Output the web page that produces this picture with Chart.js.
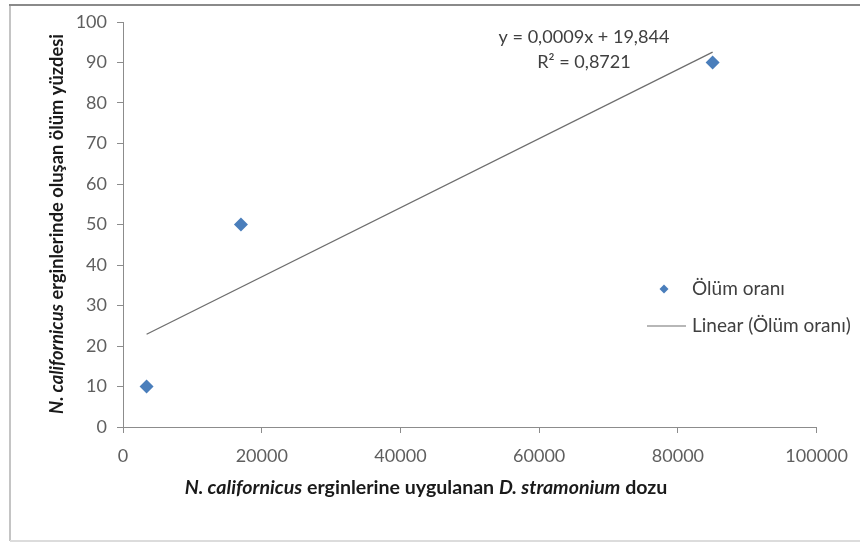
<!DOCTYPE html>
<html><head><meta charset="utf-8">
<script src="https://cdn.jsdelivr.net/npm/chart.js@4.4.1/dist/chart.umd.min.js"></script>
<style>html,body{margin:0;padding:0;background:#fff}#wrap{width:860px;height:543px;position:relative}canvas{display:block}</style>
</head><body><div id="wrap"><canvas id="c" width="860" height="543"></canvas></div>
<script>
// ---- data ----
const doseValues = [3400, 17000, 85000];
const mortalityValues = [10, 50, 90];
const xTickValues = [0, 20000, 40000, 60000, 80000, 100000];
const yTickValues = [0, 10, 20, 30, 40, 50, 60, 70, 80, 90, 100];
const seriesName = 'Ölüm oranı';
const trendName = 'Linear (Ölüm oranı)';
const equationLines = ['y = 0,0009x + 19,844', 'R² = 0,8721'];
const yTitleParts = [['N. californicus', true], [' erginlerinde oluşan ölüm yüzdesi', false]];
const xTitleParts = [['N. californicus', true], [' erginlerine uygulanan ', false], ['D. stramonium', true], [' dozu', false]];

// linear least-squares trendline across the data range (as Excel draws it)
const n = doseValues.length;
const mx = doseValues.reduce((a, b) => a + b, 0) / n;
const my = mortalityValues.reduce((a, b) => a + b, 0) / n;
let sxy = 0, sxx = 0;
for (let i = 0; i < n; i++) { sxy += (doseValues[i] - mx) * (mortalityValues[i] - my); sxx += (doseValues[i] - mx) ** 2; }
const slope = sxy / sxx, intercept = my - slope * mx;
const xMin = Math.min(...doseValues), xMax = Math.max(...doseValues);
const trendPoints = [{x: xMin, y: intercept + slope * xMin}, {x: xMax, y: intercept + slope * xMax}];

const FONT = 'Lato, "Open Sans", sans-serif';
const tickColor = '#5f5f5f';
const axisColor = '#8c8c8c';

function fitSize(ctx, parts, weight, target, base) {
  let w = 0;
  parts.forEach(p => { ctx.font = (p[1] ? 'italic ' : '') + weight + ' ' + base + 'px ' + FONT; w += ctx.measureText(p[0]).width; });
  return base * target / w;
}
function drawMixed(ctx, parts, cx, cy, rot, size, weight, color) {
  ctx.save(); ctx.translate(cx, cy); if (rot) ctx.rotate(rot);
  let total = 0; const ws = [];
  parts.forEach(p => { ctx.font = (p[1] ? 'italic ' : '') + weight + ' ' + size + 'px ' + FONT; const w = ctx.measureText(p[0]).width; ws.push(w); total += w; });
  let x = -total / 2; ctx.textBaseline = 'middle'; ctx.textAlign = 'left'; ctx.fillStyle = color;
  parts.forEach((p, i) => { ctx.font = (p[1] ? 'italic ' : '') + weight + ' ' + size + 'px ' + FONT; ctx.fillText(p[0], x, 0); x += ws[i]; });
  ctx.restore();
}

const decor = {
  id: 'decor',
  beforeDraw(chart) {
    const ctx = chart.ctx;
    ctx.save(); ctx.fillStyle = '#fff'; ctx.fillRect(0, 0, chart.width, chart.height); ctx.restore();
  },
  afterDraw(chart) {
    const ctx = chart.ctx;
    ctx.save();
    // frame
    ctx.lineWidth = 2;
    ctx.strokeStyle = '#c4c4c4'; ctx.beginPath(); ctx.moveTo(10, 4); ctx.lineTo(10, 541); ctx.stroke();
    ctx.strokeStyle = '#dcdcdc'; ctx.beginPath(); ctx.moveTo(10, 541); ctx.lineTo(860, 541); ctx.stroke();
    ctx.strokeStyle = '#8a8a8a'; ctx.beginPath(); ctx.moveTo(9, 5); ctx.lineTo(860, 5); ctx.stroke();

    // equation
    const eqSize = fitSize(ctx, [[equationLines[0], false]], 'normal', 171, 15);
    ctx.font = eqSize + 'px ' + FONT; ctx.fillStyle = '#404040'; ctx.textAlign = 'center'; ctx.textBaseline = 'middle';
    ctx.fillText(equationLines[0], 584, 37);
    ctx.fillText(equationLines[1], 584, 62);

    // legend
    const lgSize = fitSize(ctx, [[trendName, false]], 'normal', 159, 15);
    ctx.font = lgSize + 'px ' + FONT; ctx.textAlign = 'left';
    ctx.fillStyle = '#4A7EBB';
    ctx.beginPath(); ctx.moveTo(664, 284.5); ctx.lineTo(668.5, 289); ctx.lineTo(664, 293.5); ctx.lineTo(659.5, 289); ctx.closePath(); ctx.fill();
    ctx.fillStyle = '#404040';
    ctx.fillText(seriesName, 692, 289);
    ctx.strokeStyle = '#707070'; ctx.lineWidth = 1.2;
    ctx.beginPath(); ctx.moveTo(647, 326); ctx.lineTo(686, 326); ctx.stroke();
    ctx.fillText(trendName, 692, 326);
    ctx.restore();

    // axis titles
    const xs = fitSize(ctx, xTitleParts, 'bold', 483, 15);
    drawMixed(ctx, xTitleParts, 426, 488, 0, xs, 'bold', '#1a1a1a');
    const ys = fitSize(ctx, yTitleParts, 'bold', 380, 15);
    drawMixed(ctx, yTitleParts, 57, 224, -Math.PI / 2, ys, 'bold', '#1a1a1a');
  }
};

new Chart(document.getElementById('c'), {
  type: 'scatter',
  data: {
    datasets: [
      {
        label: seriesName,
        data: doseValues.map((x, i) => ({x, y: mortalityValues[i]})),
        pointStyle: 'rectRot', pointRadius: 7, pointHoverRadius: 7,
        backgroundColor: '#4A7EBB', borderColor: '#4A7EBB', borderWidth: 0,
        order: 0
      },
      {
        label: trendName,
        data: trendPoints,
        showLine: true, pointRadius: 0, borderColor: '#6e6e6e', borderWidth: 1.3,
        order: 1
      }
    ]
  },
  options: {
    responsive: false, animation: false, devicePixelRatio: 1,
    layout: {padding: {left: 0, right: 42, top: 22, bottom: 0}},
    plugins: {legend: {display: false}, tooltip: {enabled: false}},
    scales: {
      x: {
        type: 'linear', min: xTickValues[0], max: xTickValues[xTickValues.length - 1],
        afterBuildTicks: s => { s.ticks = xTickValues.map(v => ({value: v})); },
        afterFit: s => { s.height = 116; },
        ticks: {color: tickColor, font: {family: FONT, size: 18}, padding: 12, maxRotation: 0, callback: v => String(v)},
        grid: {drawOnChartArea: false, tickLength: 6, color: axisColor},
        border: {color: axisColor, width: 1}
      },
      y: {
        min: yTickValues[0], max: yTickValues[yTickValues.length - 1],
        afterBuildTicks: s => { s.ticks = yTickValues.map(v => ({value: v})); },
        afterFit: s => { s.width = 123; },
        ticks: {color: tickColor, font: {family: FONT, size: 18}, padding: 10, callback: v => String(v)},
        grid: {drawOnChartArea: false, tickLength: 6, color: axisColor},
        border: {color: axisColor, width: 1}
      }
    }
  },
  plugins: [decor]
});
</script>
</body></html>
